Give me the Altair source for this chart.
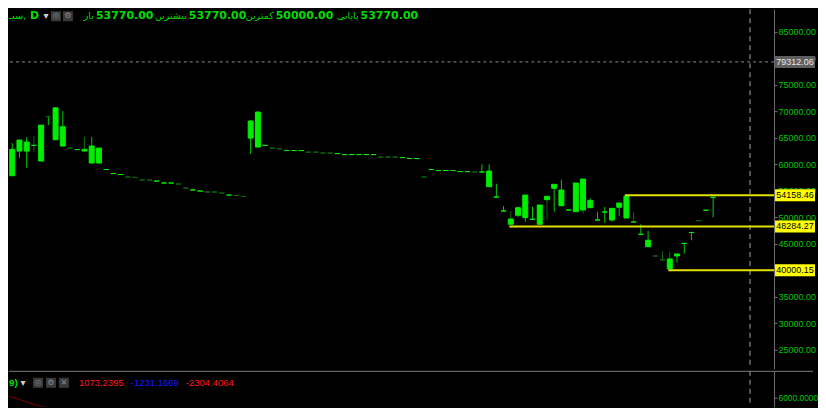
import altair as alt
import pandas as pd

# ---------------- data ----------------
opens = [59700, 57840, 62490, 62490, 63570, 60610, 69000, 64620, 63440, 63060,
         62780, 62500, 60230, 60230, 59010, 58250, 58070, 57600, 57530, 57030,
         57030, 56840, 56470, 56470, 56280, 55520, 55150, 54960, 54770, 54770,
         54580, 54200, 54110, 53920, 64940, 63250, 63570, 63060, 62930, 62590,
         62590, 62590, 62300, 62300, 62120, 62120, 62020, 61830, 61830, 61830,
         61830, 61830, 61360, 61360, 61360, 61270, 61080, 61080, 57600, 59010,
         58820, 58820, 58820, 58630, 58630, 58540, 58540, 55770, 53830, 51190,
         48680, 50380, 49930, 49620, 48680, 53320, 55470, 52190, 51380, 51060,
         51380, 51810, 49490, 51000, 49490, 51890, 49870, 49120, 46800, 44460,
         42700, 41960, 40260, 42710, 45070, 47140, 49360, 51340, 53770]
highs = [60400, 64000, 64570, 65130, 65320, 67390, 69000, 70650, 70030, 63060,
         62780, 65130, 65130, 63060, 59010, 58250, 58070, 57600, 57530, 57030,
         57030, 56840, 56470, 56470, 56280, 55520, 55150, 54960, 54770, 54770,
         54580, 54200, 54110, 53920, 68340, 70030, 63570, 63060, 62930, 62590,
         62590, 62590, 62300, 62300, 62120, 62120, 62020, 61830, 61830, 61830,
         61830, 61830, 61360, 61360, 61360, 61270, 61080, 61080, 57600, 59010,
         58820, 58820, 58820, 58630, 58630, 58540, 59990, 59990, 56330, 52130,
         51190, 51810, 54200, 51940, 52320, 53960, 56220, 57090, 51380, 56470,
         57220, 53580, 51000, 51940, 51690, 52700, 54020, 51000, 48680, 47420,
         42700, 43600, 43520, 43090, 45070, 47140, 49360, 51340, 53770]
lows = [59700, 57840, 61230, 59350, 62360, 60610, 67390, 64620, 63440, 63060,
        62780, 62500, 60230, 60230, 59010, 58250, 58070, 57600, 57530, 57030,
        57030, 56840, 56470, 56470, 56280, 55520, 55150, 54960, 54770, 54770,
        54580, 54200, 54110, 53920, 61930, 63250, 63570, 63060, 62930, 62590,
        62590, 62590, 62300, 62300, 62120, 62120, 62020, 61830, 61830, 61830,
        61830, 61830, 61360, 61360, 61360, 61270, 61080, 61080, 57600, 59010,
        58820, 58820, 58820, 58630, 58630, 58540, 58540, 55770, 53830, 51190,
        48680, 50060, 49170, 49620, 48680, 49430, 51060, 52190, 51380, 51060,
        50760, 51810, 49490, 48990, 49170, 50250, 49870, 49120, 46800, 44460,
        42700, 41960, 40260, 41450, 43150, 45670, 49360, 51340, 50000]
closes = [60150, 62810, 64570, 64190, 63570, 67390, 69000, 70650, 67070, 63060,
          62780, 62810, 63440, 63060, 59010, 58250, 58070, 57600, 57530, 57030,
          57030, 56840, 56470, 56470, 56280, 55520, 55150, 54960, 54770, 54770,
          54580, 54200, 54110, 53920, 68150, 69840, 63570, 63060, 62930, 62590,
          62590, 62590, 62300, 62300, 62120, 62120, 62020, 61830, 61830, 61830,
          61830, 61830, 61360, 61360, 61360, 61270, 61080, 61080, 57600, 59010,
          58820, 58820, 58820, 58630, 58630, 58540, 58540, 58730, 53830, 51190,
          49680, 51810, 54200, 49620, 52320, 53960, 56220, 55150, 51380, 56470,
          57220, 53200, 49490, 51000, 51690, 52700, 54020, 49120, 46800, 45670,
          42700, 41960, 42150, 43090, 45070, 47140, 49360, 51340, 53770]
# B = bright green, D = dark green
body_tone = list("BBBBBBDBBD" "BBBBBBBDDD" "DBBBDDBBDD" "DBDDBBBDDB" "BBDDDDBBBB"
                 "BBDDDBBBDB" "BBBBBDBBBB" "BBBBBBBBBB" "BBBBBBBBBB" "DDBBBBDBB")
wick_tone = list("BBBBDBBBBB" "BDBBBBBBBB" "BBBBBBBBBB" "BBBBBBBBBB" "BBBBBBBBBB"
                 "BBBBBBBBBB" "BBBBBBBBBB" "DBBBBDBBBB" "DBBBBBBDBB" "BDDBBBBBB")

level_values = [54158.46, 48284.27, 40000.15]
level_start_bars = [85.8, 69.8, 91.8]
last_price_line = 79312.06
cursor_bar = 103.1

# 40000.00 is completely hidden behind the 40000.15 marker in the reference
price_ticks = [25000, 30000, 35000, 45000, 50000, 55000,
               60000, 65000, 70000, 75000, 80000, 85000]
osc_ticks = [6000]

macd_bars = [0, 1, 2, 3, 4, 5, 6, 7, 8, 9]
macd_values = [6300, 6060, 5820, 5570, 5340, 5130, 5010, 4800, 4350, 3950]
signal_bars = [0, 1, 2, 3, 4, 5, 6, 7]
signal_values = [5450, 4950, 4670, 4450, 4310, 4230, 4150, 4000]

# legend: open, high, low, close (label, value)
ohlc_labels = ["باز", "بیشترین", "کمترین", "پایانی"]
ohlc_values = ["53770.00", "53770.00", "50000.00", "53770.00"]
osc_values_text = ["1073.2395", "-1231.1669", "-2304.4064"]

# ---------------- styling / layout ----------------
W, H1, H2 = 766, 360, 36
BRIGHT, DARK, WICK = "#00ee00", "#0b6a0b", "#00cc00"
AXIS_GREEN, HDR_GREEN = "#00c800", "#00dd00"
FONT = "Liberation Sans"
BOX_X, BOX_W = 787, 40

n = len(opens)
candles = pd.DataFrame({"bar": list(range(n)), "open": opens, "high": highs,
                        "low": lows, "close": closes,
                        "btone": body_tone, "wtone": wick_tone})
candles["body_lo"] = candles[["open", "close"]].min(axis=1)
candles["body_hi"] = candles[["open", "close"]].max(axis=1)
candles["bcol"] = candles["btone"].map({"B": BRIGHT, "D": DARK})
candles["wcol"] = candles["wtone"].map({"B": WICK, "D": DARK})

xs = alt.Scale(domain=[0.553, 106.43], nice=False, zero=False, padding=0)
ys = alt.Scale(domain=[21422, 89246], nice=False, zero=False, padding=0)
ys2 = alt.Scale(domain=[5100, 8700], nice=False, zero=False, padding=0)

X = alt.X("bar:Q", scale=xs, axis=None)
YAX = alt.Axis(orient="right", values=price_ticks, format=".2f", title=None)
YAX2 = alt.Axis(orient="right", values=osc_ticks, format=".4f", title=None,
                labelFontSize=8.4)


def label(text, px, py, color, size, weight="normal", align="left", font=FONT):
    return alt.Chart(pd.DataFrame({"t": [text]})).mark_text(
        align=align, baseline="middle", color=color, fontSize=size,
        fontWeight=weight, font=font).encode(
        x=alt.value(px), y=alt.value(py), text="t:N")


def icon(sym, px, py):
    box = alt.Chart(pd.DataFrame({"t": [sym]})).mark_square(
        size=100, color="#3a3a3a", opacity=1).encode(x=alt.value(px), y=alt.value(py))
    glyph = label(sym, px, py, "#8c8c8c", 8, align="center", font="DejaVu Sans")
    return [box, glyph]


# ----- main panel -----
base = alt.Chart(candles)
wicks = base.mark_rule(strokeWidth=1, clip=True).encode(
    x=X,
    y=alt.Y("low:Q", scale=ys, axis=YAX),
    y2="high:Q",
    color=alt.Color("wcol:N", scale=None))
bodies = base.mark_bar(size=5, strokeWidth=1, opacity=1, clip=True).encode(
    x=X,
    y=alt.Y("body_lo:Q", scale=ys, axis=YAX),
    y2="body_hi:Q",
    fill=alt.Fill("bcol:N", scale=None),
    stroke=alt.Stroke("bcol:N", scale=None))

cursor = alt.Chart(pd.DataFrame({"bar": [cursor_bar]})).mark_rule(
    color="#6e6e6e", strokeDash=[5, 4], strokeWidth=1.5).encode(x=X)

last_df = pd.DataFrame({"v": [last_price_line], "lab": [f"{last_price_line:.2f}"]})
last_line = alt.Chart(last_df).mark_rule(
    color="#8a8a8a", strokeDash=[3, 3], strokeWidth=1).encode(
    y=alt.Y("v:Q", scale=ys, axis=YAX))
last_box = alt.Chart(last_df).mark_tick(
    orient="horizontal", size=BOX_W, thickness=12, color="#5e5e5e", opacity=1).encode(
    x=alt.value(BOX_X), y=alt.Y("v:Q", scale=ys, axis=YAX))
last_txt = alt.Chart(last_df).mark_text(
    align="center", baseline="middle", color="#e8e8e8", fontSize=9, font=FONT).encode(
    x=alt.value(BOX_X), y=alt.Y("v:Q", scale=ys, axis=YAX), text="lab:N")

lv = pd.DataFrame({"v": level_values, "s": level_start_bars,
                   "lab": [f"{v:.2f}" for v in level_values]})
lv_lines = alt.Chart(lv).mark_rule(color="#e2e200", strokeWidth=2).encode(
    x=alt.X("s:Q", scale=xs, axis=None), x2=alt.value(W),
    y=alt.Y("v:Q", scale=ys, axis=YAX))
lv_box = alt.Chart(lv).mark_tick(
    orient="horizontal", size=BOX_W, thickness=12, color="#ffff00", opacity=1).encode(
    x=alt.value(BOX_X), y=alt.Y("v:Q", scale=ys, axis=YAX))
lv_txt = alt.Chart(lv).mark_text(
    align="center", baseline="middle", color="#000000", fontSize=9, font=FONT).encode(
    x=alt.value(BOX_X), y=alt.Y("v:Q", scale=ys, axis=YAX), text="lab:N")

# legend row (name, interval, toggle, icons, O/H/L/C)
HY = 7
hdr = [label("سیـ,", 0, HY, HDR_GREEN, 10, "normal", "left", "DejaVu Sans"),
       label("D", 21, HY, HDR_GREEN, 11, "bold", "left", "DejaVu Sans"),
       label("▾", 37, HY, "#d0d0d0", 10, "normal", "center", "DejaVu Sans")]
hdr += icon("◎", 47, HY) + icon("⚙", 59, HY)
for t, px in zip(ohlc_labels, [85, 178, 265, 350]):
    hdr.append(label(t, px, HY, HDR_GREEN, 9.5, "normal", "right", "DejaVu Sans"))
for t, px in zip(ohlc_values, [87, 180, 267, 352]):
    hdr.append(label(t, px, HY, HDR_GREEN, 11, "bold", "left", "DejaVu Sans"))

top = alt.layer(wicks, bodies, cursor, last_line, last_box, last_txt,
                lv_lines, lv_box, lv_txt, *hdr).properties(width=W, height=H1)

# ----- oscillator panel -----
macd_df = pd.DataFrame({"bar": macd_bars, "v": macd_values})
sig_df = pd.DataFrame({"bar": signal_bars, "v": signal_values})
red_line = alt.Chart(macd_df).mark_line(color="#8b0000", strokeWidth=1, clip=True).encode(
    x=X, y=alt.Y("v:Q", scale=ys2, axis=YAX2))
blue_line = alt.Chart(sig_df).mark_line(color="#00008b", strokeWidth=1, clip=True).encode(
    x=X, y=alt.Y("v:Q", scale=ys2, axis=YAX2))
cursor2 = alt.Chart(pd.DataFrame({"bar": [cursor_bar]})).mark_rule(
    color="#6e6e6e", strokeDash=[5, 4], strokeWidth=1.5).encode(x=X)
separator = alt.Chart(pd.DataFrame({"k": [0]})).mark_rule(
    color="#7a7a7a", strokeWidth=1).encode(
    x=alt.value(0), x2=alt.value(805), y=alt.value(0.5))

osc_hdr = [label("9)", 0, 12, HDR_GREEN, 10, "bold", "left", FONT),
           label("▾", 14, 12, "#d0d0d0", 10, "normal", "center", "DejaVu Sans")]
osc_hdr += icon("◎", 29, 12) + icon("⚙", 42, 12) + icon("✕", 55, 12)
for t, px, col in zip(osc_values_text, [70, 122, 177], ["#ff1a1a", "#1a1aff", "#ff1a1a"]):
    osc_hdr.append(label(t, px, 12, col, 9.5, "normal", "left", FONT))

bottom = alt.layer(red_line, blue_line, cursor2, separator, *osc_hdr).properties(
    width=W, height=H2)

chart = alt.vconcat(top, bottom, spacing=0).properties(
    padding=0, background="#000000"
).configure_view(stroke=None).configure_axis(
    domainColor="#707070", tickColor="#707070", tickSize=3, labelPadding=1,
    labelColor=AXIS_GREEN, labelFont=FONT, labelFontSize=9, grid=False
)

chart.save("out.html", embed_options={"renderer": "svg", "actions": False})
